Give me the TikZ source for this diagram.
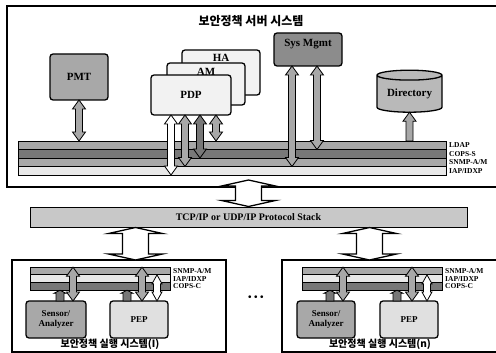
\documentclass[tikz,border=0pt]{standalone}
\usepackage{fontspec}
\setmainfont{Liberation Serif}
\newfontfamily\krfont{Noto Sans CJK KR}
\usepackage{tikz}
\usetikzlibrary{positioning,calc,shapes.geometric}
\definecolor{lgray}{RGB}{168,168,168}
\definecolor{dgray}{RGB}{120,120,120}
\definecolor{mgray}{RGB}{140,140,140}
\definecolor{pale}{RGB}{242,242,242}
\definecolor{wgray}{RGB}{232,232,232}
\definecolor{sgray}{RGB}{200,200,200}
\definecolor{pepgray}{RGB}{224,224,224}
\definecolor{dirgray}{RGB}{185,185,185}
\tikzset{
  fat hw/.store in=\fathw, fat sw/.store in=\fatsw, fat hl/.store in=\fathl,
  fat hw=6.5pt, fat sw=3.5pt, fat hl=9pt,
  dblarr/.style={draw, line width=0.8pt, to path={let \p1=(\tikztostart), \p2=(\tikztotarget) in
    (\x1,\y1) -- (\x1+\fathw,\y1-\fathl) -- (\x1+\fatsw,\y1-\fathl)
    -- (\x1+\fatsw,\y2+\fathl) -- (\x1+\fathw,\y2+\fathl) -- (\x1,\y2)
    -- (\x1-\fathw,\y2+\fathl) -- (\x1-\fatsw,\y2+\fathl)
    -- (\x1-\fatsw,\y1-\fathl) -- (\x1-\fathw,\y1-\fathl) -- cycle}},
  uparr/.style={draw, line width=0.8pt, to path={let \p1=(\tikztostart), \p2=(\tikztotarget) in
    (\x1,\y1) -- (\x1+\fathw,\y1-\fathl) -- (\x1+\fatsw,\y1-\fathl)
    -- (\x1+\fatsw,\y2) -- (\x1-\fatsw,\y2) -- (\x1-\fatsw,\y1-\fathl)
    -- (\x1-\fathw,\y1-\fathl) -- cycle}},
  ibeam/.style={dblarr, fill=white, line width=1.3pt, fat hw=27pt, fat sw=13pt, fat hl=6pt},
  stub/.style={uparr, fill=dgray, fat hw=6pt, fat sw=4pt, fat hl=3pt},
  sysbox/.style={draw, line width=1.6pt, inner sep=0pt, outer sep=0pt},
  box/.style={draw, line width=1.3pt, rounded corners=3pt, inner sep=0pt, outer sep=0pt,
              font=\fontsize{11}{12}\selectfont\bfseries},
  smallbox/.style={box, font=\fontsize{9}{10.5}\selectfont\bfseries, align=center},
  boxlbl/.style={inner sep=0pt, font=\fontsize{11}{12}\selectfont\bfseries},
  layer/.style={draw, line width=0.8pt, inner sep=0pt, outer sep=0pt},
  buslbl/.style={font=\fontsize{7.5}{8}\selectfont\bfseries, inner sep=0pt, xshift=3pt},
  krtitle/.style={font=\krfont\bfseries\fontsize{12}{14}\selectfont, inner sep=0pt},
  krsub/.style={font=\krfont\bfseries\fontsize{10}{12}\selectfont, inner sep=0pt}
}
\begin{document}
\begin{tikzpicture}[x=1pt,y=-1pt]
\useasboundingbox (0,0) rectangle (496,353);
\clip (0,0) rectangle (496,353);
\node[sysbox, minimum width=490pt, minimum height=181pt] (srv) at (252,96.5) {};
\node[krtitle] (srvtitle) at (251,21) {보안정책 서버 시스템};
\node[layer, fill=lgray, minimum width=428pt, minimum height=8.5pt, label={[buslbl]east:LDAP}] (ldap) at (232,145.25) {};
\node[layer, fill=dgray, minimum width=428pt, minimum height=8.5pt, label={[buslbl]east:COPS-S}] (copss) at (232,153.75) {};
\node[layer, fill=lgray, minimum width=428pt, minimum height=8.5pt, label={[buslbl]east:SNMP-A/M}] (snmp) at (232,162.25) {};
\node[layer, fill=wgray, minimum width=428pt, minimum height=8.5pt, label={[buslbl]east:IAP/IDXP}] (iap) at (232,170.75) {};
\node[box, fill=lgray, minimum width=58pt, minimum height=46pt] (pmt) at (79,77) {PMT};
\node[box, fill=pale, minimum width=78pt, minimum height=45pt] (ha) at (221,72.5) {};
\node[boxlbl, below=4pt of ha.north] (hatxt) {HA};
\node[box, fill=pale, minimum width=78pt, minimum height=42pt] (am) at (206,84) {};
\node[boxlbl, below=5pt of am.north] (amtxt) {AM};
\node[box, fill=pale, minimum width=80pt, minimum height=40pt] (pdp) at (191,95) {PDP};
\node[box, fill=mgray, minimum width=68pt, minimum height=33pt] (smgmt) at (308,49.5) {};
\node[boxlbl, below=6pt of smgmt.north] (smgmttxt) {Sys Mgmt};
\node[cylinder, shape border rotate=90, aspect=0.22, draw, line width=1.3pt, fill=dirgray,
      minimum width=65pt, minimum height=42pt, inner sep=0pt, outer sep=0pt,
      font=\fontsize{11}{12}\selectfont\bfseries] (dir) at (409.5,94) {Directory};
\draw[dblarr, fill=lgray] (pmt.south) to (pmt.south |- ldap.north);
\draw[dblarr, fill=white] ([xshift=-20pt]pdp.south) to ([xshift=-20pt]pdp.south |- iap.south);
\draw[dblarr, fill=lgray] ([xshift=-6pt]pdp.south) to ([xshift=-6pt]pdp.south |- snmp.south);
\draw[dblarr, fill=dgray] ([xshift=9pt]pdp.south) to ([xshift=9pt]pdp.south |- copss.south);
\draw[dblarr, fill=lgray] ([xshift=25pt]pdp.south) to ([xshift=25pt]pdp.south |- ldap.north);
\draw[dblarr, fill=lgray] ([xshift=-16pt]smgmt.south) to ([xshift=-16pt]smgmt.south |- snmp.south);
\draw[dblarr, fill=lgray] ([xshift=9pt]smgmt.south) to ([xshift=9pt]smgmt.south |- ldap.south);
\draw[uparr, fill=lgray] (dir.south) to (dir.south |- ldap.north);
\node[draw, line width=1pt, fill=sgray, minimum width=437pt, minimum height=20pt, inner sep=0pt,
      font=\fontsize{10}{12}\selectfont\bfseries] (stack) at (248.5,217) {TCP/IP or UDP/IP Protocol Stack};
\draw[ibeam] ([xshift=-3.5pt,yshift=7pt]srv.south) to ([xshift=-3.5pt]srv.south |- stack.north);
\node[sysbox, minimum width=214pt, minimum height=92pt] (exec1) at (119,306) {};
\node[sysbox, minimum width=218pt, minimum height=92pt] (exec2) at (391,306) {};
\draw[ibeam] ([xshift=106pt]stack.south west) to ([xshift=106pt]stack.south west |- exec1.north);
\draw[ibeam] ([xshift=340pt]stack.south west) to ([xshift=340pt]stack.south west |- exec2.north);
\node[layer, fill=lgray, minimum width=140pt, minimum height=7.7pt, label={[buslbl]east:SNMP-A/M}] (snmpa) at (100,271) {};
\node[layer, fill=wgray, minimum width=140pt, minimum height=7.7pt, label={[buslbl]east:IAP/IDXP}] (iapa) at (100,278.7) {};
\node[layer, fill=dgray, minimum width=140pt, minimum height=7.7pt, label={[buslbl]east:COPS-C}] (copsa) at (100,286.4) {};
\node[smallbox, fill=lgray, minimum width=60pt, minimum height=37pt] (sena) at (56,319.5) {Sensor/\\Analyzer};
\node[smallbox, fill=pepgray, minimum width=58pt, minimum height=37pt] (pepa) at (139,319.5) {PEP};
\draw[stub] ([xshift=4pt]sena.north |- copsa.south) to ([xshift=4pt]sena.north);
\draw[dblarr, fill=lgray] ([xshift=17pt]sena.north |- snmpa.north) to ([xshift=17pt]sena.north);
\draw[stub] ([xshift=-12pt]pepa.north |- copsa.south) to ([xshift=-12pt]pepa.north);
\draw[dblarr, fill=lgray] ([xshift=3pt]pepa.north |- snmpa.north) to ([xshift=3pt]pepa.north);
\draw[dblarr, fill=white, fat hw=5pt] ([xshift=18pt]pepa.north |- iapa.north) to ([xshift=18pt]pepa.north);
\node[krsub] (exec1title) at (110,344) {보안정책 실행 시스템(I)};
\node[layer, fill=lgray, minimum width=140pt, minimum height=7.7pt, label={[buslbl]east:SNMP-A/M}] (snmpb) at (372,271) {};
\node[layer, fill=wgray, minimum width=140pt, minimum height=7.7pt, label={[buslbl]east:IAP/IDXP}] (iapb) at (372,278.7) {};
\node[layer, fill=dgray, minimum width=140pt, minimum height=7.7pt, label={[buslbl]east:COPS-C}] (copsb) at (372,286.4) {};
\node[smallbox, fill=lgray, minimum width=58pt, minimum height=37pt] (senb) at (326,319.5) {Sensor/\\Analyzer};
\node[smallbox, fill=pepgray, minimum width=58pt, minimum height=37pt] (pepb) at (409,319.5) {PEP};
\draw[stub] ([xshift=4pt]senb.north |- copsb.south) to ([xshift=4pt]senb.north);
\draw[dblarr, fill=lgray] ([xshift=17pt]senb.north |- snmpb.north) to ([xshift=17pt]senb.north);
\draw[stub] ([xshift=-12pt]pepb.north |- copsb.south) to ([xshift=-12pt]pepb.north);
\draw[dblarr, fill=lgray] ([xshift=3pt]pepb.north |- snmpb.north) to ([xshift=3pt]pepb.north);
\draw[dblarr, fill=white, fat hw=5pt] ([xshift=18pt]pepb.north |- iapb.north) to ([xshift=18pt]pepb.north);
\node[krsub] (exec2title) at (380,344) {보안정책 실행 시스템(n)};
\node[font=\fontsize{10}{12}\selectfont\bfseries, inner sep=0pt] (dots) at (256,298) {\textbullet\ \textbullet\ \textbullet};
\end{tikzpicture}
\end{document}
